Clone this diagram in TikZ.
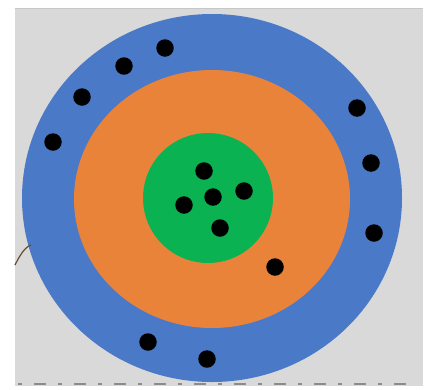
\documentclass[tikz,border=0pt]{standalone}
\begin{document}
\begin{tikzpicture}[x=1pt,y=-1pt,
  dot/.style={circle,fill=black,inner sep=0pt,minimum size=17.5pt},
  tickmark/.style={draw=black!45,line width=2pt}]
\definecolor{bg}{RGB}{217,217,217}
\definecolor{blu}{RGB}{74,121,199}
\definecolor{ora}{RGB}{234,131,58}
\definecolor{gre}{RGB}{10,178,82}
\definecolor{brn}{RGB}{105,75,55}
\useasboundingbox (0,0) rectangle (433,389);
\fill[white] (0,0) rectangle (433,389);
\fill[bg] (15,8) rectangle (423,386);
\draw[black!22,line width=1pt] (15,8.5) -- (423,8.5);
% rings
\fill[blu] (212,198) ellipse [x radius=190, y radius=184];
\fill[ora] (212,199) ellipse [x radius=138, y radius=129];
\fill[gre] (208,198) circle [radius=65];
% brown line
\coordinate (b1) at (31,245);
\coordinate (b2) at (15,265);
\draw[brn,line width=1.2pt] (b1) .. controls (25,247) and (20,255) .. (b2);
% dots in outer ring
\foreach \n/\x/\y in {o1/165/48,o2/124/66,o3/82/97,o4/53/142,o5/357/108,o6/371/163,o7/374/233,o8/148/342,o9/207/359}
  \node[dot] (\n) at (\x,\y) {};
% dot in middle ring
\node[dot] (m1) at (275,267) {};
% dots in nucleus
\foreach \n/\x/\y in {c1/204/171,c2/244/191,c3/213/197,c4/184/205,c5/220/228}
  \node[dot] (\n) at (\x,\y) {};
% bottom marks
\foreach \i in {0,...,9} {
  \draw[tickmark] ({20+40*\i-2},384) -- ({20+40*\i+2},384);
  \draw[tickmark] ({40+40*\i-6},384) -- ({40+40*\i+6},384);
}
\end{tikzpicture}
\end{document}
